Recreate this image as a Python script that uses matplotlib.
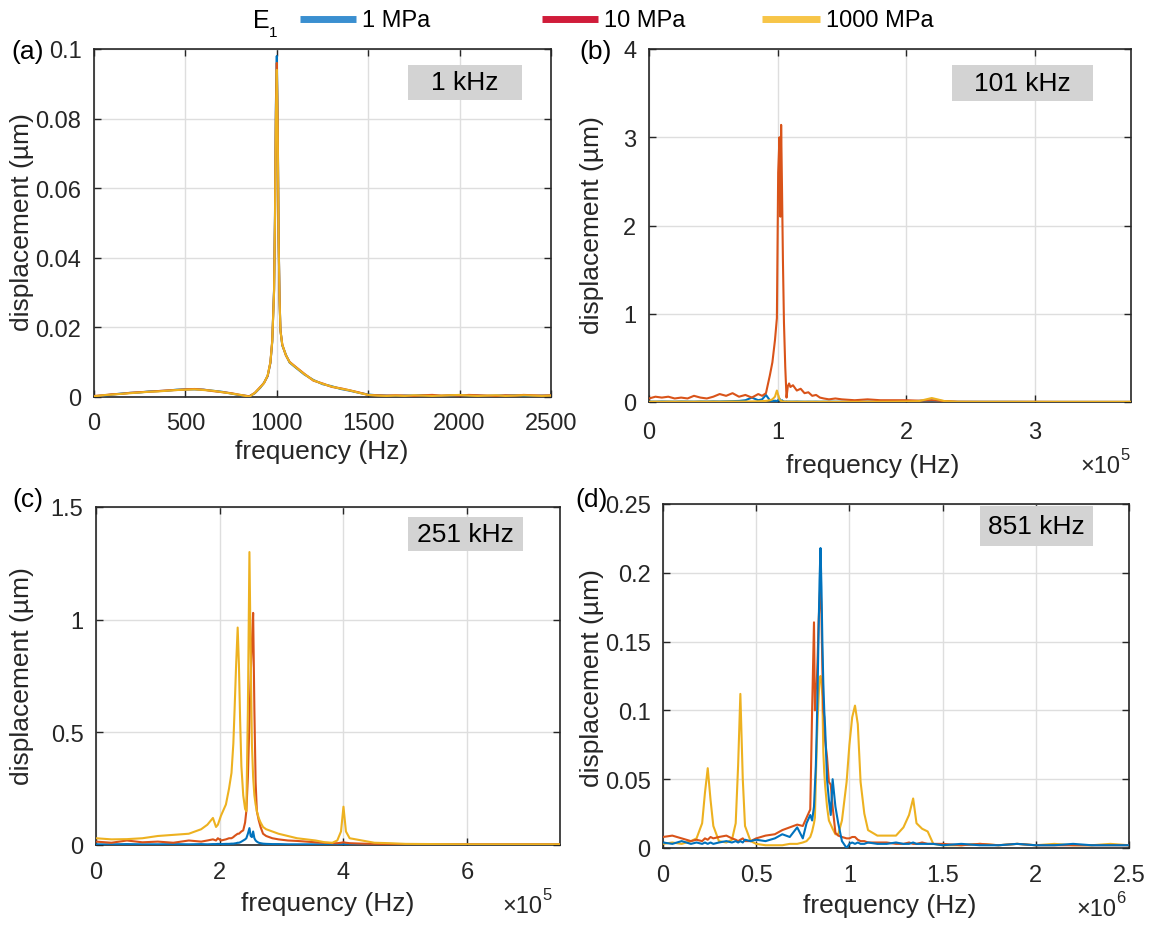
import numpy as np
import matplotlib.pyplot as plt
from matplotlib.lines import Line2D
from matplotlib.patches import Rectangle
from matplotlib.ticker import FuncFormatter

plt.rcParams['font.family'] = ['Liberation Sans', 'DejaVu Sans']

# ---------------- data ----------------
# (a) 1 kHz excitation, frequency in Hz
freq_a = [0, 50, 100, 150, 200, 250, 300, 350, 400, 450, 500, 550, 600, 650, 700, 750, 800, 850,
          880, 910, 930, 950, 965, 975, 985, 990, 995, 1000, 1005, 1010, 1015, 1020, 1030, 1050, 1070, 1100,
          1150, 1200, 1250, 1300, 1350, 1400, 1450, 1500, 1550, 1600, 1650, 1700, 1750, 1800, 1850, 1900,
          1950, 2000, 2050, 2100, 2150, 2200, 2250, 2300, 2350, 2400, 2450, 2500]
disp_a_1 = [0.0002, 0.0004, 0.0007, 0.0010, 0.0012, 0.0013, 0.0016, 0.0017, 0.0018, 0.0021, 0.0022, 0.0022,
            0.0021, 0.0018, 0.0015, 0.0010, 0.0005, 0.0002,
            0.0011, 0.0027, 0.0041, 0.0060, 0.0098, 0.0158, 0.0310, 0.0520, 0.0840, 0.0980, 0.0790, 0.0460,
            0.0285, 0.0192, 0.0148, 0.0121, 0.0099, 0.0086,
            0.0065, 0.0049, 0.0037, 0.0031, 0.0023, 0.0018, 0.0012, 0.0007, 0.0005, 0.0004, 0.0003, 0.0004,
            0.0004, 0.0005, 0.0004, 0.0003, 0.0004, 0.0005, 0.0005, 0.0004, 0.0003, 0.0004, 0.0004, 0.0005,
            0.0004, 0.0003, 0.0004, 0.0004]
disp_a_10 = [0.0003, 0.0005, 0.0008, 0.0009, 0.0012, 0.0014, 0.0015, 0.0017, 0.0019, 0.0020, 0.0022, 0.0023,
             0.0021, 0.0017, 0.0014, 0.0011, 0.0006, 0.0002,
             0.0012, 0.0029, 0.0040, 0.0061, 0.0099, 0.0162, 0.0305, 0.0510, 0.0820, 0.0960, 0.0775, 0.0455,
             0.0282, 0.0191, 0.0151, 0.0119, 0.0101, 0.0088,
             0.0067, 0.0047, 0.0039, 0.0029, 0.0025, 0.0019, 0.0013, 0.0006, 0.0005, 0.0004, 0.0005, 0.0004,
             0.0003, 0.0005, 0.0006, 0.0004, 0.0005, 0.0004, 0.0006, 0.0005, 0.0004, 0.0003, 0.0005, 0.0004,
             0.0006, 0.0005, 0.0004, 0.0005]
disp_a_1000 = [0.0002, 0.0005, 0.0007, 0.0009, 0.0011, 0.0013, 0.0015, 0.0016, 0.0018, 0.0020, 0.0021, 0.0022,
               0.0020, 0.0018, 0.0014, 0.0010, 0.0006, 0.0001,
               0.0012, 0.0028, 0.0040, 0.0062, 0.0100, 0.0160, 0.0300, 0.0500, 0.0800, 0.0940, 0.0760, 0.0450,
               0.0280, 0.0190, 0.0150, 0.0120, 0.0100, 0.0087,
               0.0066, 0.0048, 0.0038, 0.0030, 0.0024, 0.0019, 0.0012, 0.0006, 0.0004, 0.0003, 0.0004, 0.0003,
               0.0005, 0.0004, 0.0003, 0.0004, 0.0005, 0.0006, 0.0004, 0.0003, 0.0004, 0.0005, 0.0003, 0.0004,
               0.0005, 0.0004, 0.0003, 0.0004]

# (b) 101 kHz excitation, frequency in units of 1e5 Hz
freq_b = [0, 0.05, 0.1, 0.15, 0.2, 0.25, 0.3, 0.35, 0.4, 0.45, 0.5, 0.55, 0.6, 0.65, 0.7, 0.75, 0.8, 0.85,
          0.88, 0.91, 0.94, 0.96, 0.98, 0.995, 1.005, 1.015, 1.022, 1.028, 1.035, 1.042, 1.05, 1.06, 1.07,
          1.08, 1.09, 1.1,
          1.12, 1.15, 1.18, 1.21, 1.24, 1.27, 1.3, 1.33, 1.36, 1.4, 1.45, 1.5,
          1.6, 1.7, 1.8, 1.9, 2.0, 2.1, 2.2, 2.3, 2.4,
          2.6, 2.8, 3.0, 3.2, 3.4, 3.6, 3.75]
disp_b_1 = [0.005, 0.004, 0.006, 0.005, 0.004, 0.006, 0.005, 0.004, 0.006, 0.005, 0.007, 0.006, 0.008, 0.01,
            0.012, 0.02, 0.05, 0.02,
            0.03, 0.08, 0.02, 0.01, 0.015, 0.01, 0.02, 0.04, 0.01, 0.005, 0.02, 0.01, 0.005, 0.004, 0.006,
            0.004, 0.005, 0.004,
            0.004, 0.005, 0.004, 0.003, 0.004, 0.003, 0.004, 0.003, 0.003, 0.004, 0.003, 0.003,
            0.003, 0.004, 0.003, 0.005, 0.008, 0.012, 0.015, 0.004, 0.002,
            0.002, 0.002, 0.001, 0.001, 0.001, 0.001, 0.001]
disp_b_10 = [0.04, 0.06, 0.05, 0.06, 0.04, 0.05, 0.04, 0.07, 0.05, 0.04, 0.06, 0.09, 0.07, 0.10, 0.06, 0.08,
             0.05, 0.09,
             0.07, 0.10, 0.30, 0.45, 0.70, 0.95, 2.60, 3.00, 2.10, 3.14, 2.40, 1.60, 0.90, 0.40, 0.05,
             0.18, 0.21, 0.17,
             0.19, 0.13, 0.15, 0.10, 0.11, 0.07, 0.08, 0.05, 0.04, 0.03, 0.04, 0.03,
             0.02, 0.03, 0.02, 0.02, 0.02, 0.015, 0.02, 0.01, 0.003,
             0.002, 0.002, 0.002, 0.001, 0.001, 0.001, 0.001]
disp_b_1000 = [0.003, 0.004, 0.003, 0.004, 0.003, 0.004, 0.003, 0.003, 0.004, 0.003, 0.004, 0.003, 0.004,
               0.005, 0.004, 0.005, 0.006, 0.008,
               0.01, 0.012, 0.02, 0.03, 0.06, 0.13, 0.08, 0.03, 0.02, 0.01, 0.008, 0.006, 0.005, 0.004, 0.004,
               0.003, 0.003, 0.003,
               0.003, 0.003, 0.002, 0.003, 0.002, 0.003, 0.002, 0.002, 0.003, 0.002, 0.002, 0.002,
               0.002, 0.003, 0.003, 0.004, 0.006, 0.01, 0.045, 0.01, 0.003,
               0.002, 0.002, 0.002, 0.002, 0.002, 0.002, 0.002]

# (c) 251 kHz excitation, frequency in units of 1e5 Hz
freq_c = [0, 0.25, 0.5, 0.75, 1.0, 1.25, 1.5,
          1.7, 1.8, 1.89, 1.94, 1.97, 2.02,
          2.1, 2.15, 2.19, 2.22, 2.24, 2.265, 2.29, 2.31, 2.33, 2.35,
          2.38, 2.41, 2.43, 2.455, 2.48, 2.5, 2.52, 2.54, 2.56, 2.58,
          2.6, 2.63, 2.66, 2.7, 2.75, 2.85, 2.95,
          3.1, 3.25, 3.4, 3.55, 3.7, 3.82,
          3.9, 3.96, 4.0, 4.04, 4.1, 4.2, 4.3,
          4.5, 4.75, 5.0, 5.5, 6.0, 6.5, 7.0, 7.5]
disp_c_1 = [0.003, 0.003, 0.004, 0.003, 0.003, 0.004, 0.003,
            0.004, 0.003, 0.004, 0.004, 0.005, 0.004,
            0.005, 0.005, 0.006, 0.006, 0.007, 0.008, 0.01, 0.01, 0.012, 0.015,
            0.02, 0.025, 0.03, 0.05, 0.075, 0.04, 0.035, 0.06, 0.03, 0.02,
            0.015, 0.01, 0.008, 0.006, 0.005, 0.004, 0.004,
            0.003, 0.003, 0.003, 0.003, 0.003, 0.003,
            0.003, 0.003, 0.004, 0.003, 0.003, 0.003, 0.003,
            0.002, 0.002, 0.002, 0.002, 0.002, 0.002, 0.002, 0.002]
disp_c_10 = [0.015, 0.01, 0.02, 0.012, 0.015, 0.01, 0.02,
             0.015, 0.02, 0.025, 0.02, 0.03, 0.02,
             0.025, 0.03, 0.03, 0.035, 0.04, 0.045, 0.05, 0.05, 0.055, 0.06,
             0.065, 0.1, 0.15, 0.3, 0.55, 0.75, 0.9, 1.03, 0.6, 0.28,
             0.15, 0.11, 0.08, 0.05, 0.04, 0.03, 0.025,
             0.02, 0.018, 0.015, 0.012, 0.01, 0.008,
             0.008, 0.01, 0.012, 0.01, 0.008, 0.007, 0.006,
             0.005, 0.004, 0.004, 0.003, 0.003, 0.003, 0.003, 0.003]
disp_c_1000 = [0.03, 0.025, 0.026, 0.03, 0.04, 0.045, 0.05,
               0.07, 0.09, 0.12, 0.08, 0.09, 0.13,
               0.18, 0.25, 0.32, 0.45, 0.6, 0.8, 0.965, 0.8, 0.55, 0.35,
               0.22, 0.16, 0.15, 0.6, 1.3, 0.85, 0.45, 0.3, 0.22, 0.18,
               0.15, 0.12, 0.1, 0.08, 0.07, 0.06, 0.05,
               0.04, 0.03, 0.025, 0.02, 0.012, 0.01,
               0.02, 0.06, 0.17, 0.06, 0.03, 0.025, 0.02,
               0.01, 0.008, 0.005, 0.004, 0.003, 0.003, 0.003, 0.003]

# (d) 851 kHz excitation, frequency in units of 1e6 Hz
freq_d = [0, 0.05, 0.1, 0.15, 0.18, 0.21, 0.225, 0.24, 0.255, 0.27,
          0.3, 0.34, 0.37, 0.39, 0.403, 0.415, 0.428, 0.44, 0.47, 0.5,
          0.55, 0.6, 0.64, 0.68, 0.72, 0.75, 0.77, 0.79, 0.8, 0.81,
          0.815, 0.82, 0.825, 0.83, 0.835, 0.84, 0.845, 0.85, 0.855, 0.86,
          0.865, 0.87, 0.88, 0.89, 0.9, 0.91, 0.925, 0.94, 0.96, 0.985,
          1.0, 1.015, 1.03, 1.045, 1.06, 1.08, 1.1, 1.15, 1.2, 1.25,
          1.29, 1.32, 1.342, 1.36, 1.39, 1.42, 1.45, 1.5, 1.6, 1.7,
          1.8, 1.9, 2.0, 2.1, 2.2, 2.3, 2.4, 2.5]
disp_d_1 = [0.004, 0.003, 0.005, 0.003, 0.004, 0.003, 0.004, 0.003, 0.004, 0.003,
            0.004, 0.005, 0.004, 0.005, 0.004, 0.005, 0.004, 0.006, 0.005, 0.006,
            0.005, 0.007, 0.010, 0.008, 0.015, 0.007, 0.018, 0.024, 0.020, 0.030,
            0.045, 0.060, 0.087, 0.120, 0.160, 0.195, 0.218, 0.190, 0.150, 0.120,
            0.100, 0.087, 0.050, 0.035, 0.024, 0.050, 0.030, 0.018, 0.005, 0.000,
            0.003, 0.004, 0.003, 0.004, 0.003, 0.003, 0.004, 0.003, 0.003, 0.004,
            0.003, 0.003, 0.004, 0.003, 0.003, 0.003, 0.003, 0.002, 0.003, 0.002,
            0.002, 0.003, 0.002, 0.002, 0.003, 0.002, 0.002, 0.002]
disp_d_10 = [0.008, 0.009, 0.007, 0.005, 0.006, 0.005, 0.007, 0.006, 0.008, 0.007,
             0.008, 0.009, 0.007, 0.006, 0.005, 0.006, 0.007, 0.005, 0.005, 0.007,
             0.009, 0.010, 0.013, 0.015, 0.017, 0.016, 0.022, 0.028, 0.100, 0.164,
             0.100, 0.115, 0.120, 0.140, 0.165, 0.180, 0.195, 0.170, 0.130, 0.100,
             0.095, 0.078, 0.066, 0.048, 0.046, 0.030, 0.011, 0.009, 0.008, 0.007,
             0.007, 0.008, 0.008, 0.006, 0.005, 0.005, 0.004, 0.004, 0.004, 0.003,
             0.003, 0.004, 0.003, 0.003, 0.004, 0.003, 0.003, 0.003, 0.002, 0.003,
             0.002, 0.003, 0.002, 0.002, 0.002, 0.002, 0.002, 0.002]
disp_d_1000 = [0.003, 0.004, 0.003, 0.005, 0.007, 0.018, 0.040, 0.058, 0.035, 0.016,
               0.005, 0.004, 0.006, 0.018, 0.060, 0.112, 0.050, 0.016, 0.005, 0.003,
               0.002, 0.002, 0.002, 0.003, 0.003, 0.004, 0.005, 0.008, 0.012, 0.018,
               0.022, 0.050, 0.075, 0.095, 0.110, 0.124, 0.125, 0.120, 0.110, 0.070,
               0.055, 0.045, 0.030, 0.020, 0.017, 0.014, 0.010, 0.010, 0.020, 0.048,
               0.075, 0.095, 0.1035, 0.090, 0.048, 0.025, 0.013, 0.009, 0.009, 0.009,
               0.015, 0.024, 0.036, 0.018, 0.014, 0.012, 0.003, 0.002, 0.002, 0.003,
               0.002, 0.003, 0.002, 0.003, 0.002, 0.002, 0.003, 0.002]

labels = ['1 MPa', '10 MPa', '1000 MPa']
panel_tags = ['(a)', '(b)', '(c)', '(d)']
excitations = ['1 kHz', '101 kHz', '251 kHz', '851 kHz']

# ---------------- styling ----------------
W, H = 1153, 929
c_line = ['#0072BD', '#D95319', '#EDB120']
c_legend = ['#3A8FD0', '#D01C3A', '#F7C548']
txt = '#262626'


def fx(x):
    return x / W


def fy(y):
    return 1 - y / H


def rect(l, t, r, b):
    return [fx(l), fy(b), (r - l) / W, (b - t) / H]


fig = plt.figure(figsize=(W / 100, H / 100), dpi=100)

specs = [
    # rect, x data, series, xscale, xlim, xticks, ylim, yticks, x tick pad
    (rect(94, 50, 551, 398), np.array(freq_a), [disp_a_1, disp_a_10, disp_a_1000], 1,
     (0, 2500), [0, 500, 1000, 1500, 2000, 2500], (0, 0.1), [0, 0.02, 0.04, 0.06, 0.08, 0.1], 11),
    (rect(649, 50, 1131, 403), np.array(freq_b) * 1e5, [disp_b_1, disp_b_10, disp_b_1000], 1e5,
     (0, 3.75e5), [0, 1e5, 2e5, 3e5], (0, 4), [0, 1, 2, 3, 4], 14),
    (rect(96, 508, 560, 846), np.array(freq_c) * 1e5, [disp_c_1, disp_c_10, disp_c_1000], 1e5,
     (0, 7.5e5), [0, 2e5, 4e5, 6e5], (0, 1.5), [0, 0.5, 1, 1.5], 11.5),
    (rect(663, 505, 1129, 849), np.array(freq_d) * 1e6, [disp_d_1, disp_d_10, disp_d_1000], 1e6,
     (0, 2.5e6), [0, 0.5e6, 1e6, 1.5e6, 2e6, 2.5e6], (0, 0.25), [0, 0.05, 0.1, 0.15, 0.2, 0.25], 11.5),
]

axes = []
for i, (r, xs, series, sc, xl, xt, yl, yt, xpad) in enumerate(specs):
    ax = fig.add_axes(r)
    order = [0, 1, 2] if i < 3 else [2, 1, 0]
    for z, k in enumerate(order):
        ax.plot(xs, series[k], color=c_line[k], lw=1.5, zorder=3 + z)
    ax.set_xlim(*xl)
    ax.set_ylim(*yl)
    ax.set_xticks(xt)
    ax.set_yticks(yt)
    ax.xaxis.set_major_formatter(FuncFormatter(lambda v, p, s=sc: '%g' % round(v / s, 6)))
    ax.yaxis.set_major_formatter(FuncFormatter(lambda v, p: '%g' % round(v, 6)))
    ax.grid(True, color='#DEDEDE', lw=1.0, zorder=0)
    ax.set_axisbelow(True)
    ax.tick_params(direction='in', top=True, right=True, length=5, width=1.0,
                   labelsize=17, colors=txt)
    ax.tick_params(axis='x', pad=xpad)
    ax.tick_params(axis='y', pad=9)
    for s in ax.spines.values():
        s.set_color(txt)
        s.set_linewidth(1.2)
    ax.set_xlabel('frequency (Hz)', fontsize=19, color=txt)
    ax.set_ylabel('displacement (\u00b5m)', fontsize=19, color=txt)
    axes.append(ax)

# axis label positions (pixel coords)
xlab_pos = [(322, 452), (873, 466), (328, 904), (890, 906)]
ylab_pos = [(22, 222), (592, 225), (22, 676), (592, 678)]
for ax, (xx, yy), (ux, uy) in zip(axes, xlab_pos, ylab_pos):
    ax.xaxis.set_label_coords(fx(xx), fy(yy), transform=fig.transFigure)
    ax.xaxis.label.set_va('center')
    ax.yaxis.set_label_coords(fx(ux), fy(uy), transform=fig.transFigure)
    ax.yaxis.label.set_va('center')

# x10^n multipliers
for (xx, yy, e) in [(1100, 467, '5'), (522, 907, '5'), (1096, 910, '6')]:
    fig.text(fx(xx), fy(yy), '\u00d710', fontsize=17, color=txt, ha='center', va='center')
    fig.text(fx(xx + 25), fy(yy - 11), e, fontsize=12, color=txt, ha='center', va='center')

# panel tags
for tag, (xx, yy) in zip(panel_tags, [(28, 52), (596, 52), (28, 500), (592, 500)]):
    fig.text(fx(xx), fy(yy), tag, fontsize=19, color='black', ha='center', va='center')

# excitation boxes
boxes = [(408, 66, 522, 101), (952, 66, 1093, 102), (408, 518, 523, 552), (980, 507, 1093, 547)]
for name, (l, t, rr, b) in zip(excitations, boxes):
    fig.add_artist(Rectangle((fx(l), fy(b)), (rr - l) / W, (b - t) / H, transform=fig.transFigure,
                             facecolor='#D3D3D3', edgecolor='none', zorder=5))
    fig.text(fx((l + rr) / 2), fy((t + b) / 2), name, fontsize=19, color='black',
             ha='center', va='center', zorder=6)

# legend on top
fig.text(fx(261), fy(21), 'E', fontsize=18, color='black', ha='center', va='center')
fig.text(fx(273), fy(33), '1', fontsize=11, color='black', ha='center', va='center')
for (x0, x1, tx), lab, col in zip([(300, 356, 362), (542, 598, 604), (762, 820, 826)], labels, c_legend):
    fig.add_artist(Line2D([fx(x0), fx(x1)], [fy(20), fy(20)], transform=fig.transFigure,
                          color=col, lw=5, solid_capstyle='butt'))
    fig.text(fx(tx), fy(21), lab, fontsize=17, color='black', ha='left', va='center')

fig.savefig('out.png', dpi=100)
